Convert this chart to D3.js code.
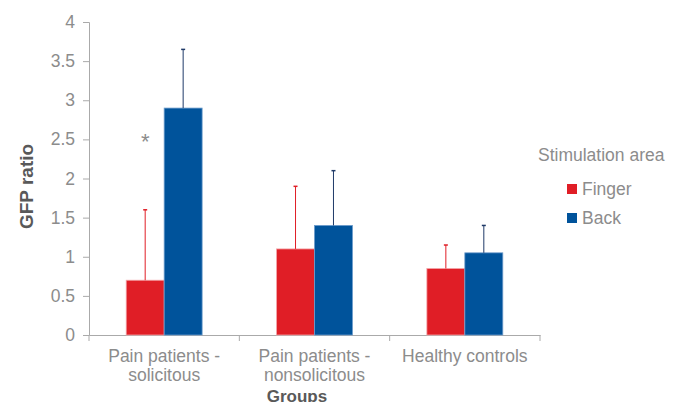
<!DOCTYPE html>
<html><head><meta charset="utf-8">
<script src="https://cdn.jsdelivr.net/npm/d3@7"></script>
<style>body{margin:0;background:#fff;} text{font-family:"Liberation Sans",Arial,sans-serif;}</style>
</head><body><svg id="c" width="678" height="402"></svg>
<script>
const groups = [["Pain patients -","solicitous"],["Pain patients -","nonsolicitous"],["Healthy controls"]];
const series = ["Finger","Back"];
const fingerMean = [0.7, 1.1, 0.85];
const fingerErr = [1.6, 1.9, 1.15];
const backMean = [2.9, 1.4, 1.05];
const backErr = [3.65, 2.1, 1.4];
const yTicks = [0,0.5,1,1.5,2,2.5,3,3.5,4];
const colors = {Finger:"#E01E26", Back:"#00539B"};
const errColors = {Finger:"#E01E26", Back:"#1F3A68"};
const edge = {Finger:"#F4A6AA", Back:"#6C9BCB"};

const svg = d3.select("#c");
const m = {l:89, r:540, t:22, b:335};
const x0 = d3.scaleBand().domain(groups.map((d,i)=>i)).range([m.l,m.r]).paddingInner(0).paddingOuter(0);
const x1 = d3.scaleBand().domain(series).range([0,x0.bandwidth()]).paddingInner(0).paddingOuter(0.98);
const y = d3.scaleLinear().domain([0,4]).range([m.b,m.t]);
const grey = "#8C8C8C";
const fs = "17.5px";

// y axis
const ya = svg.append("g").attr("transform",`translate(${m.l},0)`).call(d3.axisLeft(y).tickValues(yTicks).tickSize(6).tickPadding(8).tickFormat(d3.format("~g")));
ya.select(".domain").attr("stroke","#AAAAAA");
ya.selectAll(".tick line").attr("stroke","#AAAAAA");
ya.selectAll(".tick text").attr("fill",grey).style("font-size",fs).style("font-family","Liberation Sans, Arial, sans-serif");

// x axis
const xa = svg.append("g").attr("transform",`translate(0,${m.b})`).call(d3.axisBottom(x0).tickValues([]).tickSize(0).tickFormat(""));
xa.select(".domain").attr("stroke","#AAAAAA");
const xt = [0,1,2,3].map(i=> i<3 ? x0(i) : x0(2)+x0.bandwidth());
svg.selectAll(".xt").data(xt).enter().append("line").attr("x1",d=>d).attr("x2",d=>d).attr("y1",m.b).attr("y2",m.b+6).attr("stroke","#AAAAAA");

// x labels
groups.forEach((g,i)=>{
  const t = svg.append("text").attr("x",x0(i)+x0.bandwidth()/2).attr("y",362).attr("text-anchor","middle").attr("fill",grey).style("font-size",fs);
  g.forEach((line,j)=>t.append("tspan").attr("x",x0(i)+x0.bandwidth()/2).attr("dy",j===0?0:19).text(line));
});

// bars
const data = [];
groups.forEach((g,i)=>{
  data.push({g:i,s:"Finger",v:fingerMean[i],e:fingerErr[i]});
  data.push({g:i,s:"Back",v:backMean[i],e:backErr[i]});
});
svg.selectAll(".bar").data(data).enter().append("rect")
  .attr("x",d=>x0(d.g)+x1(d.s)).attr("width",x1.bandwidth())
  .attr("y",d=>y(d.v)).attr("height",d=>y(0)-y(d.v))
  .attr("fill",d=>colors[d.s]).attr("stroke",d=>edge[d.s]).attr("stroke-width",0.8);

// error bars
data.forEach(d=>{
  const cx = x0(d.g)+x1(d.s)+x1.bandwidth()/2;
  svg.append("line").attr("x1",cx).attr("x2",cx).attr("y1",y(d.v)).attr("y2",y(d.e)).attr("stroke",errColors[d.s]).attr("stroke-width",1);
  svg.append("line").attr("x1",cx-2).attr("x2",cx+2).attr("y1",y(d.e)).attr("y2",y(d.e)).attr("stroke",errColors[d.s]).attr("stroke-width",1.5);
});

// asterisk
svg.append("text").attr("x",x0(0)+x1("Finger")+x1.bandwidth()/2).attr("y",y(2.5)+10).attr("text-anchor","middle").attr("fill","#8C8C8C").style("font-size","22px").text("*");

// y title
svg.append("text").attr("transform",`translate(33,${(m.t+m.b)/2+8}) rotate(-90)`).attr("text-anchor","middle").attr("fill","#595959").style("font-size","19px").style("font-weight","bold").text("GFP ratio");
// x title
svg.append("text").attr("x",297).attr("y",402).attr("text-anchor","middle").attr("fill","#595959").style("font-size","17px").style("font-weight","bold").text("Groups");

// legend
svg.append("text").attr("x",538).attr("y",161).attr("fill",grey).style("font-size",fs).text("Stimulation area");
series.forEach((s,i)=>{
  svg.append("rect").attr("x",567).attr("y",184+i*29).attr("width",10).attr("height",10).attr("fill",colors[s]);
  svg.append("text").attr("x",582).attr("y",195+i*29).attr("fill",grey).style("font-size",fs).text(s);
});
</script></body></html>
